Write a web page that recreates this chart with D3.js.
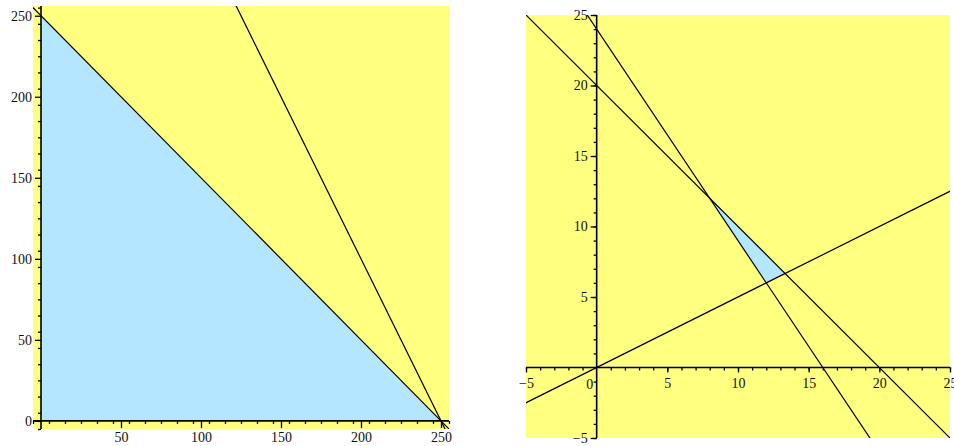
<!DOCTYPE html>
<html>
<head>
<meta charset="utf-8">
<script src="https://cdn.jsdelivr.net/npm/d3@7"></script>
<style>
  body { margin: 0; background: #fff; }
  svg text { font-family: "Liberation Serif", "Times New Roman", serif; font-size: 14px; fill: #111; }
</style>
</head>
<body>
<svg id="chart" width="954" height="446"></svg>
<script>
const svgW = 954, svgH = 446;

// left panel: boundary lines a*x + b*y = c, and the shaded region
const leftLines = [ {a: 1, b: 1, c: 250}, {a: 2, b: 1, c: 500} ];
const leftRegion = [ [0, 0], [250, 0], [0, 250] ];
const leftXTicks = [50, 100, 150, 200, 250];
const leftYTicks = [0, 50, 100, 150, 200, 250];

// right panel
const rightLines = [ {a: 1, b: 1, c: 20}, {a: 3, b: 2, c: 48}, {a: 1, b: -2, c: 0} ];
const rightRegion = [ [8, 12], [12, 6], [40 / 3, 20 / 3] ];
const rightXTicks = [-5, 5, 10, 15, 20, 25];
const rightYTicks = [-5, 5, 10, 15, 20, 25];

const yellow = "#ffff80", blue = "#b4e7ff";
const fmt = d => d < 0 ? "\u2212" + Math.abs(d) : String(d);

const svg = d3.select("#chart");

function linePoints(l, xd, yd) {
    // two far-apart points on the line, the clip path trims them
    if (l.b === 0) return [[l.c / l.a, yd[0]], [l.c / l.a, yd[1]]];
    return [xd[0] - 50, xd[1] + 50].map(x => [x, (l.c - l.a * x) / l.b]);
}

function drawPanel(id, cfg) {
    const x = d3.scaleLinear(cfg.xd, cfg.xr);
    const y = d3.scaleLinear(cfg.yd, cfg.yr);
    const g = svg.append("g");

    g.append("clipPath").attr("id", id)
        .append("rect")
        .attr("x", cfg.xr[0]).attr("y", cfg.yr[1])
        .attr("width", cfg.xr[1] - cfg.xr[0]).attr("height", cfg.yr[0] - cfg.yr[1]);

    g.append("rect")
        .attr("x", cfg.xr[0]).attr("y", cfg.yr[1])
        .attr("width", cfg.xr[1] - cfg.xr[0]).attr("height", cfg.yr[0] - cfg.yr[1])
        .attr("fill", yellow);

    const line = d3.line().x(d => x(d[0])).y(d => y(d[1]));

    g.append("path")
        .datum(cfg.region)
        .attr("d", d => line(d) + "Z")
        .attr("fill", blue);

    // axes through the origin
    const xMinor = d3.range(cfg.xd[0], cfg.xd[1] + 0.001, cfg.minor).filter(v => v !== 0);
    const yMinor = d3.range(cfg.yd[0], cfg.yd[1] + 0.001, cfg.minor).filter(v => v !== 0);

    const xAxis = g.append("g").attr("transform", `translate(0,${y(0)})`);
    xAxis.call(d3.axisBottom(x).tickValues(xMinor).tickSize(3).tickFormat(""));
    xAxis.call(g2 => g2.selectAll(".domain").remove());
    const xMajor = g.append("g").attr("transform", `translate(0,${y(0)})`)
        .call(d3.axisBottom(x).tickValues(cfg.xTicks).tickSize(cfg.majorX).tickPadding(cfg.xPad).tickFormat(fmt));
    xMajor.select(".domain").attr("d", `M${cfg.xr[0]},0H${cfg.xr[1]}`);

    const yAxis = g.append("g").attr("transform", `translate(${x(0)},0)`);
    yAxis.call(d3.axisLeft(y).tickValues(yMinor).tickSize(3).tickFormat(""));
    yAxis.call(g2 => g2.selectAll(".domain").remove());
    const yMajor = g.append("g").attr("transform", `translate(${x(0)},0)`)
        .call(d3.axisLeft(y).tickValues(cfg.yTicks).tickSize(6).tickPadding(3).tickFormat(fmt));
    yMajor.select(".domain").attr("d", `M0,${cfg.yr[0]}V${cfg.yr[1]}`);

    g.selectAll(".domain").attr("stroke", "#000").attr("stroke-width", 1.6);
    g.selectAll(".tick line").attr("stroke", "#000").attr("stroke-width", 1.3);
    g.selectAll(".tick text").attr("fill", "#111").style("font-size", "14px")
        .style("font-family", '"Liberation Serif", "Times New Roman", serif');
    g.selectAll("g").attr("font-family", null).attr("font-size", null);

    if (cfg.zeroLabel) {
        g.append("text")
            .attr("x", x(0) - 7).attr("y", y(0) + 21)
            .attr("text-anchor", "middle")
            .text("0");
    }

    g.append("g").attr("clip-path", `url(#${id})`)
        .selectAll("path")
        .data(cfg.lines)
        .enter()
        .append("path")
        .attr("d", l => line(linePoints(l, cfg.xd, cfg.yd)))
        .attr("fill", "none")
        .attr("stroke", "#000")
        .attr("stroke-width", 1.2);
}

drawPanel("clipL", {
    xd: [-5, 255], xr: [33, 449],
    yd: [-5, 256], yr: [429, 6],
    lines: leftLines, region: leftRegion,
    xTicks: leftXTicks, yTicks: leftYTicks,
    minor: 10, majorX: 7, xPad: 4
});

drawPanel("clipR", {
    xd: [-5, 25], xr: [526, 950],
    yd: [-5, 25], yr: [438, 15],
    lines: rightLines, region: rightRegion,
    xTicks: rightXTicks, yTicks: rightYTicks,
    minor: 1, majorX: 5, xPad: 6, zeroLabel: true
});
</script>
</body>
</html>
